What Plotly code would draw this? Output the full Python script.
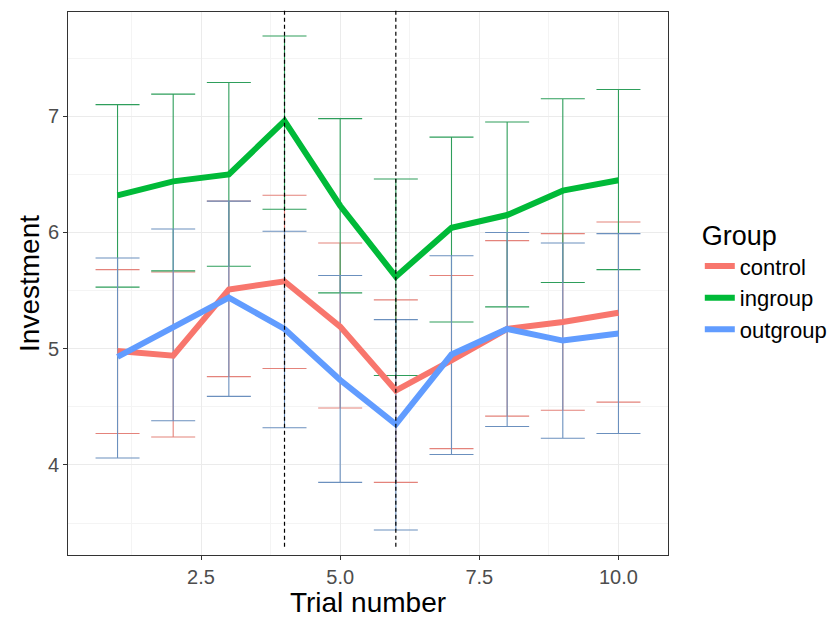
import plotly.graph_objects as go

trials = [1, 2, 3, 4, 5, 6, 7, 8, 9, 10]

control_mean = [4.98, 4.94, 5.51, 5.58, 5.19, 4.64, 4.90, 5.17, 5.23, 5.31]
control_low = [4.27, 4.24, 4.76, 4.83, 4.49, 3.85, 4.14, 4.42, 4.47, 4.54]
control_high = [5.68, 5.66, 6.27, 6.32, 5.91, 5.42, 5.63, 5.93, 5.99, 6.09]

ingroup_mean = [6.32, 6.44, 6.50, 6.96, 6.23, 5.62, 6.04, 6.15, 6.36, 6.45]
ingroup_low = [5.53, 5.67, 5.71, 6.20, 5.48, 4.77, 5.23, 5.36, 5.57, 5.68]
ingroup_high = [7.10, 7.19, 7.29, 7.69, 6.98, 6.46, 6.82, 6.95, 7.15, 7.23]

outgroup_mean = [4.93, 5.19, 5.44, 5.17, 4.73, 4.35, 4.95, 5.17, 5.07, 5.13]
outgroup_low = [4.06, 4.38, 4.59, 4.32, 3.85, 3.44, 4.09, 4.33, 4.23, 4.27]
outgroup_high = [5.78, 6.03, 6.27, 6.01, 5.63, 5.25, 5.80, 6.00, 5.91, 5.99]

vlines = [4, 6]

groups = [
    ("control", control_mean, control_low, control_high, "#F8766D", "#E4837B"),
    ("ingroup", ingroup_mean, ingroup_low, ingroup_high, "#00BA38", "#2E9E5B"),
    ("outgroup", outgroup_mean, outgroup_low, outgroup_high, "#619CFF", "#6B90BE"),
]

FONT = "Liberation Sans, Arial"

fig = go.Figure()

# error bars first
for name, m, lo, hi, col, ecol in groups:
    fig.add_trace(go.Scatter(
        x=trials, y=m, mode="markers",
        marker=dict(size=1, opacity=0),
        error_y=dict(type="data", symmetric=False,
                     array=[h - v for h, v in zip(hi, m)],
                     arrayminus=[v - l for v, l in zip(m, lo)],
                     color=ecol, thickness=1.1, width=22),
        showlegend=False, hoverinfo="skip"))

for name, m, lo, hi, col, ecol in groups:
    fig.add_trace(go.Scatter(
        x=trials, y=m, mode="lines", name=name, legendgroup=name,
        line=dict(color=col, width=6)))

for v in vlines:
    fig.add_shape(type="line", xref="x", yref="paper", x0=v, x1=v,
                  y0=0.015, y1=1.006, line=dict(color="black", width=1.2, dash="4px,3px"))

axis_common = dict(
    showline=True, linecolor="#333333", linewidth=1, mirror=True,
    ticks="outside", ticklen=4, tickcolor="#333333",
    gridcolor="#EBEBEB", gridwidth=1, zeroline=False, automargin=False,
    tickfont=dict(family=FONT, size=20, color="#4D4D4D"),
)

fig.update_layout(
    width=836, height=618,
    margin=dict(l=68, r=168, t=12, b=63, autoexpand=False),
    paper_bgcolor="white", plot_bgcolor="white",
    xaxis=dict(range=[0.11, 10.89], tick0=0, dtick=2.5, tickformat=".1f",
               minor=dict(dtick=1.25, tick0=0, showgrid=True, gridcolor="#F4F4F4", gridwidth=1, ticks=""),
               title=dict(text="Trial number", standoff=7,
                          font=dict(family=FONT, size=28, color="black")),
               **axis_common),
    yaxis=dict(range=[3.225, 7.897], tick0=0, dtick=1,
               minor=dict(dtick=0.5, tick0=0, showgrid=True, gridcolor="#F4F4F4", gridwidth=1, ticks=""),
               title=dict(text="Investment", standoff=0,
                          font=dict(family=FONT, size=28, color="black")),
               **axis_common),
    legend=dict(x=1.053, y=0.635, xanchor="left", yanchor="top",
                title=dict(text="Group", font=dict(family=FONT, size=27, color="black")),
                font=dict(family=FONT, size=22, color="black"),
                tracegroupgap=0, itemwidth=30, bgcolor="rgba(0,0,0,0)"),
)

fig.write_html("out.html")
